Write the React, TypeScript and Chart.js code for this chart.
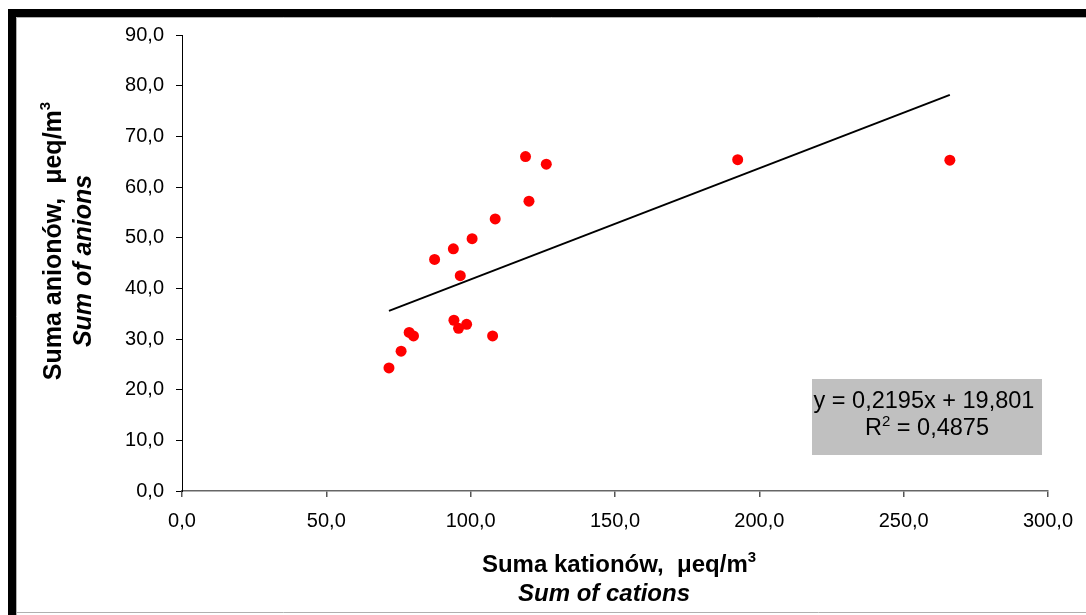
import React, { useEffect, useRef } from "react";
import { Chart, registerables } from "chart.js";

Chart.register(...registerables);

// Data
const cations = [71.7, 75.9, 78.7, 80.2, 87.5, 94.0, 94.2, 95.8, 96.4, 98.6, 100.5, 107.6, 108.5, 119.0, 120.2, 126.2, 192.5, 266.0];
const anions = [24.3, 27.6, 31.3, 30.6, 45.7, 47.8, 33.7, 32.1, 42.5, 32.9, 49.8, 30.6, 53.7, 66.0, 57.2, 64.5, 65.4, 65.3];

// Linear trend shown in the chart
const trendSlope = 0.2195;
const trendIntercept = 19.801;
const equationLine = "y = 0,2195x + 19,801";
const rSquaredLabel = ["R", "2", " = 0,4875"];

const xTitle = ["Suma kationów,  μeq/m", "3"];
const xSubtitle = "Sum of cations";
const yTitle = ["Suma anionów,  μeq/m", "3"];
const ySubtitle = "Sum of anions";

const xMin = 0, xMax = 300, xStep = 50;
const yMin = 0, yMax = 90, yStep = 10;

const FONT = '"Liberation Sans", Arial, sans-serif';

const fmt = (v: number | string) => Number(v).toFixed(1).replace(".", ",");

function drawSup(
  ctx: CanvasRenderingContext2D,
  main: string,
  sup: string,
  after: string,
  cx: number,
  baseline: number,
  font: string,
  supFont: string,
  supRise: number
) {
  ctx.font = font;
  const w1 = ctx.measureText(main).width;
  const w3 = ctx.measureText(after).width;
  ctx.font = supFont;
  const w2 = ctx.measureText(sup).width;
  const total = w1 + w2 + w3;
  let x = cx - total / 2;
  ctx.textAlign = "left";
  ctx.textBaseline = "alphabetic";
  ctx.font = font;
  ctx.fillText(main, x, baseline);
  x += w1;
  ctx.font = supFont;
  ctx.fillText(sup, x, baseline - supRise);
  x += w2;
  ctx.font = font;
  ctx.fillText(after, x, baseline);
}

const framePlugin = {
  id: "frame",
  beforeDraw(chart: any) {
    const ctx = chart.ctx as CanvasRenderingContext2D;
    ctx.save();
    ctx.fillStyle = "#ffffff";
    ctx.fillRect(0, 0, chart.width, chart.height);
    ctx.fillStyle = "#000000";
    ctx.fillRect(8, 9, chart.width - 8, 8);
    ctx.fillRect(8, 9, 8, chart.height - 9);
    ctx.strokeStyle = "#b0b0b0";
    ctx.lineWidth = 1;
    ctx.beginPath();
    ctx.moveTo(16.5, 17.5);
    ctx.lineTo(chart.width, 17.5);
    ctx.moveTo(16.5, 17.5);
    ctx.lineTo(16.5, chart.height);
    ctx.moveTo(16, 612.5);
    ctx.lineTo(chart.width, 612.5);
    ctx.stroke();
    ctx.restore();
  },
  afterDraw(chart: any) {
    const ctx = chart.ctx as CanvasRenderingContext2D;
    const area = chart.chartArea;
    ctx.save();
    ctx.fillStyle = "#000";
    // X title
    const cx = (area.left + area.right) / 2;
    drawSup(ctx, xTitle[0], xTitle[1], "", cx + 4, 572, `bold 24px ${FONT}`, `bold 15px ${FONT}`, 10);
    ctx.font = `italic bold 24px ${FONT}`;
    ctx.textAlign = "center";
    ctx.textBaseline = "alphabetic";
    ctx.fillText(xSubtitle, cx - 11, 601);
    // Y title
    ctx.save();
    ctx.translate(61, 241);
    ctx.rotate(-Math.PI / 2);
    drawSup(ctx, yTitle[0], yTitle[1], "", 0, 0, `bold 25px ${FONT}`, `bold 15px ${FONT}`, 11);
    ctx.restore();
    ctx.save();
    ctx.translate(91, 261);
    ctx.rotate(-Math.PI / 2);
    ctx.font = `italic bold 25px ${FONT}`;
    ctx.textAlign = "center";
    ctx.textBaseline = "alphabetic";
    ctx.fillText(ySubtitle, 0, 0);
    ctx.restore();
    // Equation box
    ctx.fillStyle = "#c0c0c0";
    ctx.fillRect(812, 379, 230, 76);
    ctx.fillStyle = "#000";
    ctx.font = `23.5px ${FONT}`;
    ctx.textAlign = "center";
    ctx.textBaseline = "alphabetic";
    ctx.fillText(equationLine, 924, 408);
    drawSup(ctx, rSquaredLabel[0], rSquaredLabel[1], rSquaredLabel[2], 927, 435, `23.5px ${FONT}`, `15px ${FONT}`, 9);
    ctx.restore();
  },
};

export default function App() {
  const ref = useRef<HTMLCanvasElement | null>(null);
  useEffect(() => {
    document.body.style.margin = "0";
    const canvas = ref.current!;
    const points = cations.map((x, i) => ({ x, y: anions[i] }));
    const minX = Math.min(...cations);
    const maxX = Math.max(...cations);
    const trend = [
      { x: minX, y: trendSlope * minX + trendIntercept },
      { x: maxX, y: trendSlope * maxX + trendIntercept },
    ];
    const chart = new Chart(canvas, {
      type: "scatter",
      data: {
        datasets: [
          {
            label: "trend",
            data: trend,
            showLine: true,
            borderColor: "#000",
            borderWidth: 2,
            pointRadius: 0,
            order: 1,
          },
          {
            label: "points",
            data: points,
            backgroundColor: "#ff0000",
            borderWidth: 0,
            pointRadius: 5.5,
            order: 0,
          },
        ],
      },
      options: {
        animation: false,
        responsive: false,
        devicePixelRatio: 1,
        layout: { padding: { left: 0, right: 38, top: 35, bottom: 0 } },
        plugins: { legend: { display: false }, tooltip: { enabled: false } },
        scales: {
          x: {
            type: "linear",
            min: xMin,
            max: xMax,
            ticks: {
              stepSize: xStep,
              callback: (v: any) => fmt(v),
              font: { size: 20, family: FONT },
              color: "#000",
              padding: 12,
              maxRotation: 0,
            },
            grid: { drawOnChartArea: false, tickLength: 6, color: "#555", lineWidth: 1.5 },
            border: { color: "#666", width: 1.5 },
            afterFit: (s: any) => {
              s.height = 124;
            },
          },
          y: {
            type: "linear",
            min: yMin,
            max: yMax,
            ticks: {
              stepSize: yStep,
              callback: (v: any) => fmt(v),
              font: { size: 20, family: FONT },
              color: "#000",
              padding: 12,
            },
            grid: { drawOnChartArea: false, tickLength: 6, color: "#000", lineWidth: 1 },
            border: { color: "#000", width: 1 },
            afterFit: (s: any) => {
              s.width = 182;
            },
          },
        },
      },
      plugins: [framePlugin],
    } as any);
    return () => chart.destroy();
  }, []);
  return (
    <div style={{ position: "absolute", left: 0, top: 0, width: 1086, height: 615 }}>
      <canvas ref={ref} width={1086} height={615} style={{ display: "block" }} />
    </div>
  );
}
